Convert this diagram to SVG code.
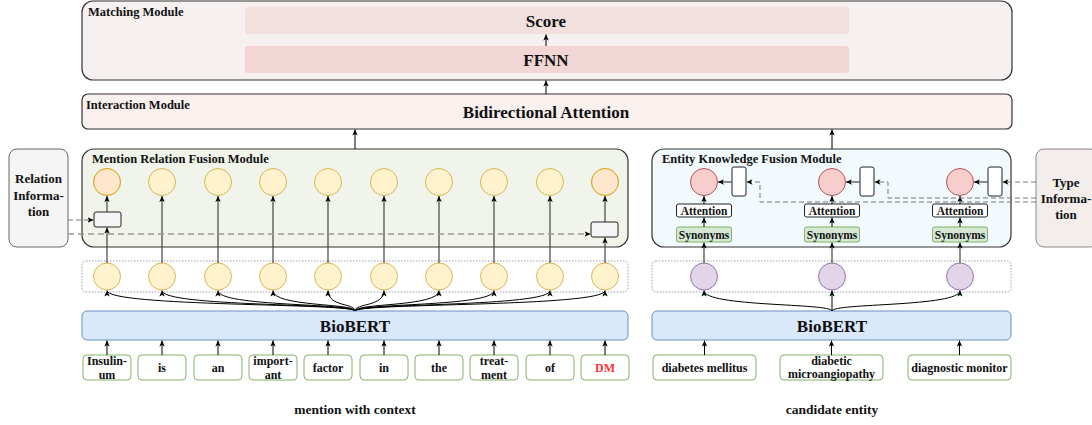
<svg xmlns="http://www.w3.org/2000/svg" width="1092" height="425" viewBox="0 0 1092 425">
<defs>
<marker id="a" markerWidth="7" markerHeight="6" refX="6" refY="3" orient="auto" markerUnits="userSpaceOnUse"><path d="M0,0.3 L6,3 L0,5.7 L1.6,3z" fill="#000"/></marker>
<style>
text{font-family:"Liberation Serif","Times New Roman",serif;font-weight:bold;fill:#111}
.mod{stroke:#333;stroke-width:1.2}
.lbl{font-size:12.5px}
.c{text-anchor:middle}
.yc{fill:#fff2cc;stroke:#d6b656;stroke-width:1}
.oc{fill:#ffe6cc;stroke:#d79b00;stroke-width:1}
.rc{fill:#f8cecc;stroke:#b85450;stroke-width:1}
.pc{fill:#e1d5e7;stroke:#9673a6;stroke-width:1}
.tok{fill:#fff;stroke:#82b366;stroke-width:1}
.bert{fill:#dae8fc;stroke:#6c8ebf;stroke-width:1}
.dot{fill:none;stroke:#888;stroke-width:0.8;stroke-dasharray:1.5,1.5}
.small{fill:#f5f5f5;stroke:#222;stroke-width:1}
.wb{fill:#fff;stroke:#222;stroke-width:1}
.syn{fill:#d5e8d4;stroke:#82b366;stroke-width:1}
.t12{font-size:12px}
.t11{font-size:11.5px}
.big{font-size:17px}
.ar{fill:none;stroke:#000;stroke-width:1;marker-end:url(#a)}
.ar2{fill:none;stroke:#444;stroke-width:1.2;marker-end:url(#a)}
.dash{fill:none;stroke:#777;stroke-width:1;stroke-dasharray:5,3;marker-end:url(#a)}
.dash2{fill:none;stroke:#999;stroke-width:1.3;stroke-dasharray:6,4;marker-end:url(#a)}
</style>
</defs>

<g id="matching-module">
<rect x="82" y="1" width="930" height="79" rx="11" fill="#f6f0f0" class="mod"/>
<text x="88" y="16" class="lbl">Matching Module</text>
</g>
<g id="score">
<rect x="245" y="7" width="604" height="27" rx="3" fill="#f2e0de"/>
<text x="546" y="26.5" class="big c">Score</text>
</g>
<g id="ffnn">
<rect x="245" y="46" width="604" height="27" rx="3" fill="#f2d6d6"/>
<text x="546" y="66" class="big c">FFNN</text>
</g>
<g id="interaction-module">
<rect x="82" y="94" width="930" height="35" rx="6" fill="#faf0ee" class="mod"/>
<text x="86" y="109" class="lbl">Interaction Module</text>
<text x="546" y="118" class="big c">Bidirectional Attention</text>
</g>

<g id="mention-module">
<rect x="82" y="149" width="546" height="98" rx="12" fill="#f0f4ea" class="mod"/>
<text x="92" y="163" class="lbl">Mention Relation Fusion Module</text>
</g>
<g id="entity-module">
<rect x="652" y="149" width="359" height="98" rx="12" fill="#f2fafd" class="mod"/>
<text x="662" y="163" class="lbl">Entity Knowledge Fusion Module</text>
</g>

<g id="relation-info">
<rect x="9" y="149" width="59" height="98" rx="8" fill="#f5f5f5" stroke="#666" stroke-width="1"/>
<text x="38.5" y="183" class="c" font-size="13">Relation</text>
<text x="38.5" y="199.5" class="c" font-size="13">Informa-</text>
<text x="38.5" y="216" class="c" font-size="13">tion</text>
</g>
<g id="type-info">
<rect x="1036" y="149" width="62" height="98" rx="8" fill="#f3edeb" stroke="#888" stroke-width="1"/>
<text x="1066" y="187" class="c" font-size="13">Type</text>
<text x="1066" y="203" class="c" font-size="13">Informa-</text>
<text x="1066" y="219" class="c" font-size="13">tion</text>
</g>

<g id="left-containers">
<rect x="82" y="261" width="546" height="31" rx="4" class="dot"/>
</g>
<g id="right-containers">
<rect x="652" y="261" width="359" height="31" rx="4" class="dot"/>
</g>

<g id="mention-top-circles">
<circle cx="107" cy="182" r="13.5" class="oc"/>
<circle cx="162" cy="182" r="13.5" class="yc"/>
<circle cx="218" cy="182" r="13.5" class="yc"/>
<circle cx="273" cy="182" r="13.5" class="yc"/>
<circle cx="328" cy="182" r="13.5" class="yc"/>
<circle cx="384" cy="182" r="13.5" class="yc"/>
<circle cx="439" cy="182" r="13.5" class="yc"/>
<circle cx="494" cy="182" r="13.5" class="yc"/>
<circle cx="550" cy="182" r="13.5" class="yc"/>
<circle cx="605" cy="182" r="13.5" class="oc"/>
</g>
<g id="relation-gates">
<rect x="94" y="212" width="27" height="15" rx="2" class="small"/>
<rect x="591" y="222" width="27" height="15" rx="2" class="small"/>
</g>
<g id="mention-bottom-circles">
<circle cx="107" cy="276.5" r="13.5" class="yc"/>
<circle cx="162" cy="276.5" r="13.5" class="yc"/>
<circle cx="218" cy="276.5" r="13.5" class="yc"/>
<circle cx="273" cy="276.5" r="13.5" class="yc"/>
<circle cx="328" cy="276.5" r="13.5" class="yc"/>
<circle cx="384" cy="276.5" r="13.5" class="yc"/>
<circle cx="439" cy="276.5" r="13.5" class="yc"/>
<circle cx="494" cy="276.5" r="13.5" class="yc"/>
<circle cx="550" cy="276.5" r="13.5" class="yc"/>
<circle cx="605" cy="276.5" r="13.5" class="yc"/>
</g>

<g id="entity-nodes">
<circle cx="704" cy="182" r="13.5" class="rc"/>
<circle cx="832" cy="182" r="13.5" class="rc"/>
<circle cx="960" cy="182" r="13.5" class="rc"/>
<rect x="732" y="167" width="14" height="29" rx="2" class="wb"/>
<rect x="860" y="167" width="14" height="29" rx="2" class="wb"/>
<rect x="988" y="167" width="14" height="29" rx="2" class="wb"/>
<rect x="676.5" y="204" width="55" height="13" rx="2" class="wb"/>
<rect x="804.5" y="204" width="55" height="13" rx="2" class="wb"/>
<rect x="932.5" y="204" width="55" height="13" rx="2" class="wb"/>
<text x="704" y="214.5" class="c t11">Attention</text>
<text x="832" y="214.5" class="c t11">Attention</text>
<text x="960" y="214.5" class="c t11">Attention</text>
<rect x="676.5" y="227" width="55" height="15" rx="2" class="syn"/>
<rect x="804.5" y="227" width="55" height="15" rx="2" class="syn"/>
<rect x="932.5" y="227" width="55" height="15" rx="2" class="syn"/>
<text x="704" y="238.5" class="c t11">Synonyms</text>
<text x="832" y="238.5" class="c t11">Synonyms</text>
<text x="960" y="238.5" class="c t11">Synonyms</text>
<circle cx="704" cy="276.5" r="13.5" class="pc"/>
<circle cx="832" cy="276.5" r="13.5" class="pc"/>
<circle cx="960" cy="276.5" r="13.5" class="pc"/>
</g>

<g id="biobert-left">
<rect x="82" y="311" width="546" height="29" rx="5" class="bert"/>
<text x="355" y="332" class="big c">BioBERT</text>
</g>
<g id="biobert-right">
<rect x="652" y="311" width="359" height="29" rx="5" class="bert"/>
<text x="832" y="332" class="big c">BioBERT</text>
</g>

<g id="tokens">
<rect x="83" y="355" width="48" height="25" rx="4" class="tok"/>
<text x="107" y="365" class="c t12">Insulin-</text><text x="107" y="378.5" class="c t12">um</text>
<rect x="138" y="355" width="48" height="25" rx="4" class="tok"/>
<text x="162" y="372" class="c t12">is</text>
<rect x="194" y="355" width="48" height="25" rx="4" class="tok"/>
<text x="218" y="372" class="c t12">an</text>
<rect x="249" y="355" width="48" height="25" rx="4" class="tok"/>
<text x="273" y="365" class="c t12">import-</text><text x="273" y="378.5" class="c t12">ant</text>
<rect x="304" y="355" width="48" height="25" rx="4" class="tok"/>
<text x="328" y="372" class="c t12">factor</text>
<rect x="360" y="355" width="48" height="25" rx="4" class="tok"/>
<text x="384" y="372" class="c t12">in</text>
<rect x="415" y="355" width="48" height="25" rx="4" class="tok"/>
<text x="439" y="372" class="c t12">the</text>
<rect x="470" y="355" width="48" height="25" rx="4" class="tok"/>
<text x="494" y="365" class="c t12">treat-</text><text x="494" y="378.5" class="c t12">ment</text>
<rect x="526" y="355" width="48" height="25" rx="4" class="tok"/>
<text x="550" y="372" class="c t12">of</text>
<rect x="581" y="355" width="48" height="25" rx="4" class="tok"/>
<text x="605" y="372" class="c t12" style="fill:#ff3333">DM</text>
</g>
<g id="entities">
<rect x="653" y="355" width="103" height="25" rx="4" class="tok"/>
<text x="704.5" y="372" class="c t12">diabetes mellitus</text>
<rect x="780" y="355" width="103" height="25" rx="4" class="tok"/>
<text x="831.5" y="365" class="c t12">diabetic</text><text x="831.5" y="377.5" class="c t12">microangiopathy</text>
<rect x="908" y="355" width="103" height="25" rx="4" class="tok"/>
<text x="959.5" y="372" class="c t12">diagnostic monitor</text>
</g>

<g id="captions">
<text x="355" y="414" class="c" font-size="13.5">mention with context</text>
<text x="832" y="414" class="c" font-size="13.5">candidate entity</text>
</g>

<g id="connectors">
<path class="ar" d="M546,46 V34.5"/>
<path class="ar" d="M546,94 V80.5"/>
<path class="ar" d="M355,149 V129.5"/>
<path class="ar" d="M832,149 V129.5"/>
<!-- token to bert -->
<path class="ar" d="M107,355 V340.5"/><path class="ar" d="M162,355 V340.5"/><path class="ar" d="M218,355 V340.5"/><path class="ar" d="M273,355 V340.5"/><path class="ar" d="M328,355 V340.5"/><path class="ar" d="M384,355 V340.5"/><path class="ar" d="M439,355 V340.5"/><path class="ar" d="M494,355 V340.5"/><path class="ar" d="M550,355 V340.5"/><path class="ar" d="M605,355 V340.5"/>
<path class="ar" d="M704.5,355 V340.5"/><path class="ar" d="M831.5,355 V340.5"/><path class="ar" d="M959.5,355 V340.5"/>
<!-- bert fans -->
<path class="ar" d="M355,311 C355,303 107,307 107,290.5"/>
<path class="ar" d="M355,311 C355,303 162,307 162,290.5"/>
<path class="ar" d="M355,311 C355,303 218,307 218,290.5"/>
<path class="ar" d="M355,311 C355,303 273,307 273,290.5"/>
<path class="ar" d="M355,311 C355,303 328,307 328,290.5"/>
<path class="ar" d="M355,311 C355,303 384,307 384,290.5"/>
<path class="ar" d="M355,311 C355,303 439,307 439,290.5"/>
<path class="ar" d="M355,311 C355,303 494,307 494,290.5"/>
<path class="ar" d="M355,311 C355,303 550,307 550,290.5"/>
<path class="ar" d="M355,311 C355,303 605,307 605,290.5"/>
<path class="ar" d="M832,311 C832,303 704,307 704,290.5"/>
<path class="ar" d="M832,311 V290.5"/>
<path class="ar" d="M832,311 C832,303 960,307 960,290.5"/>
<!-- mention verticals -->
<path class="ar2" d="M107,263 V227.5"/>
<path class="ar2" d="M107,212 V196"/>
<path class="ar2" d="M162,263 V196"/><path class="ar2" d="M218,263 V196"/><path class="ar2" d="M273,263 V196"/><path class="ar2" d="M328,263 V196"/><path class="ar2" d="M384,263 V196"/><path class="ar2" d="M439,263 V196"/><path class="ar2" d="M494,263 V196"/><path class="ar2" d="M550,263 V196"/>
<path class="ar2" d="M605,263 V237.5"/>
<path class="ar2" d="M605,222 V196"/>
<!-- relation dashed -->
<path class="dash" d="M68,220 H93.5"/>
<path class="dash2" d="M68,234 H590.5"/>
<!-- entity verticals -->
<path class="ar2" d="M704,263 V242.5"/><path class="ar2" d="M832,263 V242.5"/><path class="ar2" d="M960,263 V242.5"/>
<path class="ar" d="M704,227 V217.5"/><path class="ar" d="M832,227 V217.5"/><path class="ar" d="M960,227 V217.5"/>
<path class="ar" d="M704,204 V196"/><path class="ar" d="M832,204 V196"/><path class="ar" d="M960,204 V196"/>
<path class="ar2" d="M732,182 H718"/><path class="ar2" d="M860,182 H846"/><path class="ar2" d="M988,182 H974"/>
<!-- type dashed -->
<path class="dash" d="M1036,182 H1002.5"/>
<path class="dash" d="M1036,198 H888 V182 H874.5"/>
<path class="dash" d="M1036,202 H760 V182 H746.5"/>
</g>
</svg>
